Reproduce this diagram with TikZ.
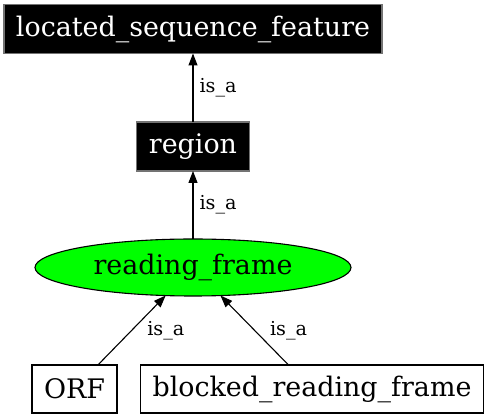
\documentclass[tikz,border=0pt]{standalone}
\usepackage{fontspec}
\setmainfont{DejaVu Serif}
\usepackage{tikz}
\usetikzlibrary{positioning}
\usetikzlibrary{shapes.geometric}
\usetikzlibrary{arrows.meta}

\begin{document}
\begin{tikzpicture}[x=1pt, y=-1pt,
                line width=1.1pt,
                blk/.style={rectangle, draw=black!55, fill=black, text=white,
                    minimum height=49pt, inner xsep=12pt, inner ysep=0pt, outer sep=0pt,
                    font=\fontsize{26.9}{30}\selectfont},
                box/.style={rectangle, draw=black, fill=white,
                    minimum height=48pt, inner xsep=12pt, inner ysep=0pt, outer sep=0pt,
                    font=\fontsize{26.9}{30}\selectfont},
                ell/.style={ellipse, draw=black, fill={rgb,255:red,0;green,255;blue,0},
                    minimum width=316pt, minimum height=57pt, inner sep=0pt, outer sep=0pt,
                    font=\fontsize{26.9}{30}\selectfont},
                isa/.style={midway, anchor=west, inner sep=0pt, xshift=#1,
                    font=\fontsize{19.2}{22}\selectfont},
                edge/.style={-{Triangle[length=12pt,width=9pt]}}]
                \useasboundingbox (0,0) rectangle (488,419);
                \node[blk](lsf) at (193, 29) {located\_sequence\_feature};
                \node[blk](region) at (193, 146.5) {region};
                \node[ell](rf) at (193, 267.5) {reading\_frame};
                \node[box](orf) at (74.5, 389) {ORF};
                \node[box](brf) at (312, 389) {blocked\_reading\_frame};
                % is_a edges
                \draw[edge] (region) -- (lsf) node[isa=6pt] {is\_a};
                \draw[edge] (rf) -- (region) node[isa=6pt] {is\_a};
                \draw[edge] (orf) -- (rf) node[isa=15pt] {is\_a};
                \draw[edge] (brf) -- (rf) node[isa=15pt] {is\_a};
            \end{tikzpicture}
\end{document}
